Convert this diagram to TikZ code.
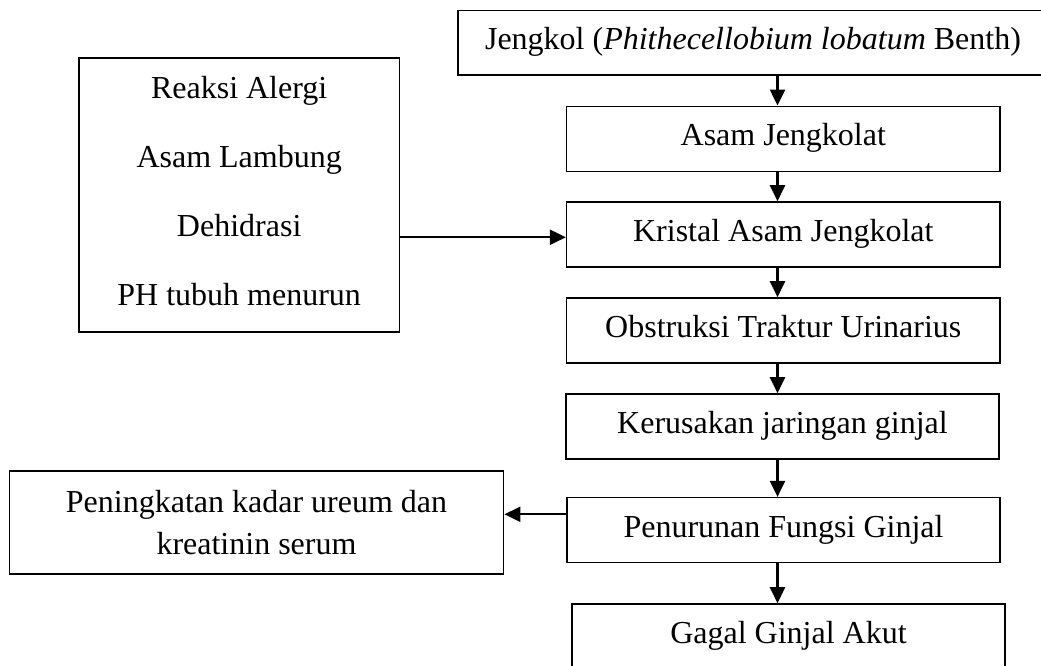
\documentclass[tikz,border=0pt]{standalone}
\usepackage{fontspec}
\setmainfont{Liberation Serif}
\usetikzlibrary{arrows.meta,calc}
\begin{document}
\begin{tikzpicture}[x=1pt,y=1pt,
  boxbase/.style={draw=black, line width=1.6pt, inner sep=0pt, align=center},
  onebox/.style={boxbase, font=\fontsize{32}{38}\selectfont, text height=24pt, text depth=10pt},
  colbox/.style={onebox, minimum width=433.3pt, minimum height=65pt},
  arr/.style={line width=2.4pt, -{Triangle[length=16pt,width=15pt]}}]
\useasboundingbox (0,0) rectangle (1041,666);
\clip (0,0) rectangle (1041,666);
\node[onebox, minimum width=590pt, minimum height=64.3pt] (top) at (753,623.15) {Jengkol (\textit{Phithecellobium lobatum} Benth)};
\node[colbox] (as) at (783.3,527.15) {Asam Jengkolat};
\node[colbox] (kr) at (783.3,431.5) {Kristal Asam Jengkolat};
\node[colbox] (ob) at (783.3,335.5) {Obstruksi Traktur Urinarius};
\node[colbox] (ke) at (782.5,239.5) {Kerusakan jaringan ginjal};
\node[colbox] (pe) at (783.5,135.8) {Penurunan Fungsi Ginjal};
\node[colbox] (ga) at (788.5,29.5) {Gagal Ginjal Akut};
\node[boxbase, font=\fontsize{32}{69}\selectfont, minimum width=320.3pt, minimum height=273.7pt] (lf) at (239.2,470.85)
  {Reaksi Alergi\\Asam Lambung\\Dehidrasi\\PH tubuh menurun\rule[-8.6pt]{0pt}{8.6pt}};
\node[boxbase, font=\fontsize{32}{41.3}\selectfont, minimum width=494.3pt, minimum height=103pt] (pk) at (256.5,143.5)
  {Peningkatan kadar ureum dan\\kreatinin serum};
\coordinate (ax) at (777.5,0);
\draw[arr] (top.south -| ax) -- (as.north -| ax);
\draw[arr] (as.south -| ax) -- (kr.north -| ax);
\draw[arr] (kr.south -| ax) -- (ob.north -| ax);
\draw[arr] (ob.south -| ax) -- (ke.north -| ax);
\draw[arr] (ke.south -| ax) -- (pe.north -| ax);
\draw[arr] (pe.south -| ax) -- (ga.north -| ax);
\draw[arr] ([yshift=-2.8pt]kr.west -| lf.east) -- ([yshift=-2.8pt]kr.west);
\draw[arr] ([yshift=15.9pt]pe.west) -- ([yshift=15.9pt]pe.west -| pk.east);
\end{tikzpicture}
\end{document}
